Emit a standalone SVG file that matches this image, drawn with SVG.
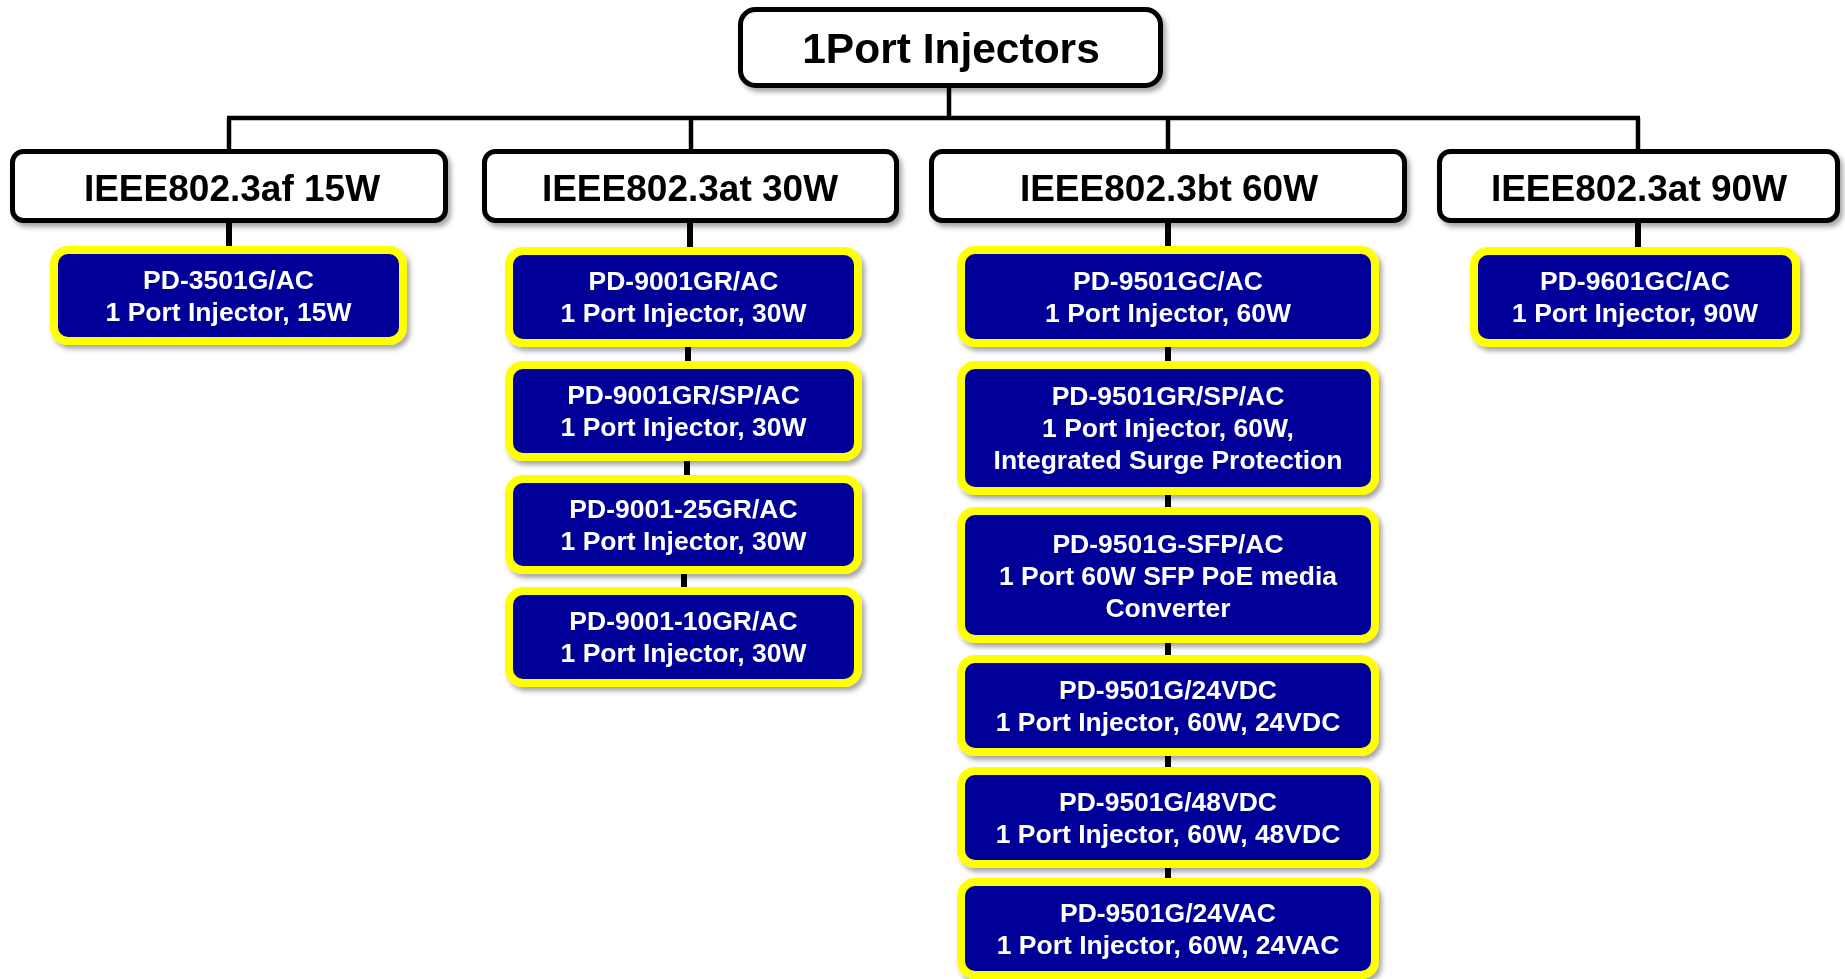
<svg xmlns="http://www.w3.org/2000/svg" width="1845" height="979" viewBox="0 0 1845 979">
<defs>
<filter id="sh" x="-10%" y="-10%" width="125%" height="130%">
<feDropShadow dx="3" dy="4" stdDeviation="2.5" flood-color="#000" flood-opacity="0.35"/>
</filter>
<style>
.hdr rect{fill:#fff;stroke:#000;stroke-width:5}
.hdr text{font-family:"Liberation Sans",Arial,sans-serif;font-weight:bold;fill:#000;text-anchor:middle}
.prod rect{fill:#000099;stroke:#ffff00;stroke-width:8}
.prod text{font-family:"Liberation Sans",Arial,sans-serif;font-weight:bold;font-size:26.5px;fill:#fff;text-anchor:middle}
#connectors line{stroke:#000;stroke-width:4.5}
#connectors line.s{stroke-width:6}
</style>
</defs>
<g id="connectors">
<line x1="949" y1="86" x2="949" y2="118"/>
<line x1="227" y1="118" x2="1640" y2="118"/>
<line x1="229" y1="118" x2="229" y2="150"/>
<line x1="691" y1="118" x2="691" y2="150"/>
<line x1="1168" y1="118" x2="1168" y2="150"/>
<line x1="1638" y1="118" x2="1638" y2="150"/>
<line class="s" x1="229" y1="222" x2="229" y2="248"/>
<line class="s" x1="690" y1="222" x2="690" y2="248"/>
<line class="s" x1="688" y1="346" x2="688" y2="363"/>
<line class="s" x1="687" y1="460" x2="687" y2="476"/>
<line class="s" x1="684" y1="572" x2="684" y2="588"/>
<line class="s" x1="1168" y1="222" x2="1168" y2="248"/>
<line class="s" x1="1168" y1="346" x2="1168" y2="362"/>
<line class="s" x1="1168" y1="494" x2="1168" y2="508"/>
<line class="s" x1="1168" y1="642" x2="1168" y2="656"/>
<line class="s" x1="1168" y1="755" x2="1168" y2="768"/>
<line class="s" x1="1168" y1="867" x2="1168" y2="879"/>
<line class="s" x1="1638" y1="222" x2="1638" y2="248"/>
</g>
<g id="root" class="hdr" filter="url(#sh)">
<rect x="740.5" y="9.5" width="420" height="76" rx="15"/>
<text x="951" y="63" font-size="42.5">1Port Injectors</text>
</g>
<g id="af15" class="hdr" filter="url(#sh)">
<rect x="12.5" y="151.5" width="433" height="69" rx="11"/>
<text x="232" y="201" font-size="37">IEEE802.3af 15W</text>
</g>
<g id="at30" class="hdr" filter="url(#sh)">
<rect x="484.5" y="151.5" width="412" height="69" rx="11"/>
<text x="690" y="201" font-size="37">IEEE802.3at 30W</text>
</g>
<g id="bt60" class="hdr" filter="url(#sh)">
<rect x="931.5" y="151.5" width="473" height="69" rx="11"/>
<text x="1169" y="201" font-size="37">IEEE802.3bt 60W</text>
</g>
<g id="at90" class="hdr" filter="url(#sh)">
<rect x="1439.5" y="151.5" width="398" height="69" rx="11"/>
<text x="1639" y="201" font-size="37">IEEE802.3at 90W</text>
</g>
<g id="pd3501" class="prod" filter="url(#sh)">
<rect x="54" y="250" width="349" height="91" rx="14"/>
<text x="228.5" y="288.8">PD-3501G/AC</text>
<text x="228.5" y="320.8">1 Port Injector, 15W</text>
</g>
<g id="pd9001gr" class="prod" filter="url(#sh)">
<rect x="509" y="251" width="349" height="92" rx="14"/>
<text x="683.5" y="290">PD-9001GR/AC</text>
<text x="683.5" y="322">1 Port Injector, 30W</text>
</g>
<g id="pd9001grsp" class="prod" filter="url(#sh)">
<rect x="509" y="365" width="349" height="92" rx="14"/>
<text x="683.5" y="404">PD-9001GR/SP/AC</text>
<text x="683.5" y="436">1 Port Injector, 30W</text>
</g>
<g id="pd9001-25" class="prod" filter="url(#sh)">
<rect x="509" y="479" width="349" height="91" rx="14"/>
<text x="683.5" y="518">PD-9001-25GR/AC</text>
<text x="683.5" y="550">1 Port Injector, 30W</text>
</g>
<g id="pd9001-10" class="prod" filter="url(#sh)">
<rect x="509" y="591" width="349" height="92" rx="14"/>
<text x="683.5" y="630">PD-9001-10GR/AC</text>
<text x="683.5" y="662">1 Port Injector, 30W</text>
</g>
<g id="pd9501gc" class="prod" filter="url(#sh)">
<rect x="961" y="250" width="414" height="93" rx="14"/>
<text x="1168" y="290">PD-9501GC/AC</text>
<text x="1168" y="322">1 Port Injector, 60W</text>
</g>
<g id="pd9501grsp" class="prod" filter="url(#sh)">
<rect x="961" y="365" width="414" height="126" rx="14"/>
<text x="1168" y="405">PD-9501GR/SP/AC</text>
<text x="1168" y="437">1 Port Injector, 60W,</text>
<text x="1168" y="469">Integrated Surge Protection</text>
</g>
<g id="pd9501sfp" class="prod" filter="url(#sh)">
<rect x="961" y="511" width="414" height="128" rx="14"/>
<text x="1168" y="553">PD-9501G-SFP/AC</text>
<text x="1168" y="585">1 Port 60W SFP PoE media</text>
<text x="1168" y="617">Converter</text>
</g>
<g id="pd9501-24vdc" class="prod" filter="url(#sh)">
<rect x="961" y="659" width="414" height="93" rx="14"/>
<text x="1168" y="698.5">PD-9501G/24VDC</text>
<text x="1168" y="730.5">1 Port Injector, 60W, 24VDC</text>
</g>
<g id="pd9501-48vdc" class="prod" filter="url(#sh)">
<rect x="961" y="771" width="414" height="93" rx="14"/>
<text x="1168" y="810.5">PD-9501G/48VDC</text>
<text x="1168" y="842.5">1 Port Injector, 60W, 48VDC</text>
</g>
<g id="pd9501-24vac" class="prod" filter="url(#sh)">
<rect x="961" y="882" width="414" height="93" rx="14"/>
<text x="1168" y="921.5">PD-9501G/24VAC</text>
<text x="1168" y="953.5">1 Port Injector, 60W, 24VAC</text>
</g>
<g id="pd9601gc" class="prod" filter="url(#sh)">
<rect x="1474" y="251" width="322" height="92" rx="14"/>
<text x="1635" y="290">PD-9601GC/AC</text>
<text x="1635" y="322">1 Port Injector, 90W</text>
</g>
</svg>
